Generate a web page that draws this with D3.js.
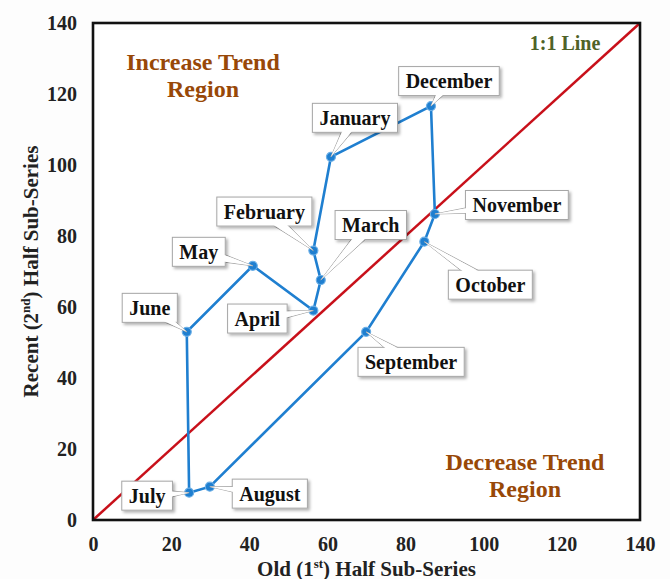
<!DOCTYPE html>
<html>
<head>
<meta charset="utf-8">
<script src="https://cdn.jsdelivr.net/npm/d3@7"></script>
<style>
  body { margin: 0; background: #fdfdfd; }
  svg { display: block; }
</style>
</head>
<body>
<div id="chart"></div>
<script>
const months = ["January", "February", "March", "April", "May", "June",
    "July", "August", "September", "October", "November", "December"];
const oldHalf = [60.9, 56.4, 58.3, 56.4, 40.9, 24.0, 24.6, 29.9, 69.9, 84.8, 87.5, 86.5];
const recentHalf = [102.3, 75.9, 67.6, 59.0, 71.6, 53.0, 7.7, 9.4, 53.0, 78.4, 86.2, 116.6];
const axisTicks = [0, 20, 40, 60, 80, 100, 120, 140];

// callout box placement, offset of the box centre from its point (px)
const calloutOffsets = {
    January: [24, -39], February: [-49, -39], March: [50, -55], April: [-56, 8],
    May: [-54, -14], June: [-37, -24], July: [-42, 3], August: [60, 7],
    September: [45, 30], October: [66, 43], November: [82, -9], December: [18, -25]
};

const width = 670, height = 579;
const margin = { top: 23, right: 30, bottom: 59, left: 93 };
const innerWidth = width - margin.left - margin.right;
const innerHeight = height - margin.top - margin.bottom;

const data = months.map((m, i) => ({ month: m, x: oldHalf[i], y: recentHalf[i] }));

const xScale = d3.scaleLinear().domain([0, 140]).range([0, innerWidth]);
const yScale = d3.scaleLinear().domain([0, 140]).range([innerHeight, 0]);

const svg = d3.select("#chart").append("svg")
    .attr("width", width)
    .attr("height", height);

const defs = svg.append("defs");
const shadow = defs.append("filter").attr("id", "shadow")
    .attr("x", "-20%").attr("y", "-30%").attr("width", "150%").attr("height", "180%");
shadow.append("feDropShadow")
    .attr("dx", 2).attr("dy", 2).attr("stdDeviation", 1.8)
    .attr("flood-color", "#000").attr("flood-opacity", 0.3);

const group = svg.append("g")
    .attr("transform", `translate(${margin.left}, ${margin.top})`);

group.append("rect")
    .attr("width", innerWidth)
    .attr("height", innerHeight)
    .attr("fill", "#fff");

const serif = "'Liberation Serif', 'Times New Roman', serif";

group.append("g")
    .attr("transform", `translate(0, ${innerHeight})`)
    .call(d3.axisBottom(xScale).tickValues(axisTicks).tickSize(0).tickPadding(17))
    .call(g => g.select(".domain").remove())
    .call(g => g.selectAll(".tick text")
        .style("font-family", serif)
        .style("font-size", "20px")
        .style("font-weight", "bold")
        .style("fill", "#222"));

group.append("g")
    .call(d3.axisLeft(yScale).tickValues(axisTicks).tickSize(0).tickPadding(16))
    .call(g => g.select(".domain").remove())
    .call(g => g.selectAll(".tick text")
        .style("font-family", serif)
        .style("font-size", "20px")
        .style("font-weight", "bold")
        .style("fill", "#222"));

// 1:1 line
group.append("line")
    .attr("x1", xScale(0)).attr("y1", yScale(0))
    .attr("x2", xScale(140)).attr("y2", yScale(140))
    .attr("stroke", "#c8101a")
    .attr("stroke-width", 2.5);

const line = d3.line()
    .x(d => xScale(d.x))
    .y(d => yScale(d.y))
    .curve(d3.curveLinearClosed);

group.append("path")
    .datum(data)
    .attr("d", line)
    .attr("fill", "none")
    .attr("stroke", "#1f7fd0")
    .attr("stroke-width", 2.6);

group.selectAll(".pt")
    .data(data)
    .join("circle")
    .attr("class", "pt")
    .attr("cx", d => xScale(d.x))
    .attr("cy", d => yScale(d.y))
    .attr("r", 4.5)
    .attr("fill", "#1f7fd0")
    .attr("stroke", "#6aaee6")
    .attr("stroke-width", 1.2);

// frame
group.append("rect")
    .attr("width", innerWidth)
    .attr("height", innerHeight)
    .attr("fill", "none")
    .attr("stroke", "#111")
    .attr("stroke-width", 2.6);

// callouts
const tailPath = (px, py, cx, cy, half) => {
    const dx = px - cx, dy = py - cy;
    const len = Math.hypot(dx, dy) || 1;
    const nx = -dy / len * half, ny = dx / len * half;
    return `M${cx + nx},${cy + ny}L${px},${py}L${cx - nx},${cy - ny}Z`;
};

const callouts = group.selectAll(".callout")
    .data(data)
    .join("g")
    .attr("class", "callout");

callouts.each(function (d) {
    const g = d3.select(this);
    const px = xScale(d.x), py = yScale(d.y);
    const [ox, oy] = calloutOffsets[d.month];
    const cx = px + ox, cy = py + oy;

    g.append("path")
        .attr("d", tailPath(px, py, cx, cy, 7))
        .attr("fill", "#fff")
        .attr("stroke", "#a6a6a6")
        .attr("stroke-width", 1);

    const box = g.append("rect")
        .attr("fill", "#fff")
        .attr("stroke", "#a6a6a6")
        .attr("stroke-width", 1)
        .attr("filter", "url(#shadow)");

    g.append("path")
        .attr("d", tailPath(px, py, cx, cy, 6.2))
        .attr("fill", "#fff");

    const txt = g.append("text")
        .attr("x", cx)
        .attr("y", cy + 7)
        .attr("text-anchor", "middle")
        .style("font-family", serif)
        .style("font-size", "20px")
        .style("font-weight", "bold")
        .style("fill", "#111")
        .text(d.month);

    const w = txt.node().getComputedTextLength() + 14;
    const h = 29;
    box.attr("x", cx - w / 2).attr("y", cy - h / 2)
        .attr("width", w).attr("height", h);
});

// region annotations
const addLines = (lines, x, y, size, color, lh) => {
    const t = group.append("text")
        .attr("text-anchor", "middle")
        .style("font-family", serif)
        .style("font-size", size + "px")
        .style("font-weight", "bold")
        .style("fill", color);
    lines.forEach((s, i) => t.append("tspan").attr("x", x).attr("y", y + i * lh).text(s));
};
addLines(["Increase Trend", "Region"], 110, 47, 24, "#984807", 27);
addLines(["Decrease Trend", "Region"], 432, 447, 24, "#984807", 27);
addLines(["1:1 Line"], 472, 27, 20, "#4f6228", 0);

// axis titles
const xTitle = svg.append("text")
    .attr("x", margin.left + innerWidth / 2)
    .attr("y", 576)
    .attr("text-anchor", "middle")
    .style("font-family", serif)
    .style("font-size", "21px")
    .style("font-weight", "bold")
    .style("fill", "#222");
xTitle.append("tspan").text("Old (1");
xTitle.append("tspan").attr("dy", -8).style("font-size", "13px").text("st");
xTitle.append("tspan").attr("dy", 8).text(") Half Sub-Series");

const yTitle = svg.append("text")
    .attr("transform", `translate(38, ${margin.top + innerHeight / 2}) rotate(-90)`)
    .attr("text-anchor", "middle")
    .style("font-family", serif)
    .style("font-size", "21px")
    .style("font-weight", "bold")
    .style("fill", "#222");
yTitle.append("tspan").text("Recent (2");
yTitle.append("tspan").attr("dy", -8).style("font-size", "13px").text("nd");
yTitle.append("tspan").attr("dy", 8).text(") Half Sub-Series");
</script>
</body>
</html>
